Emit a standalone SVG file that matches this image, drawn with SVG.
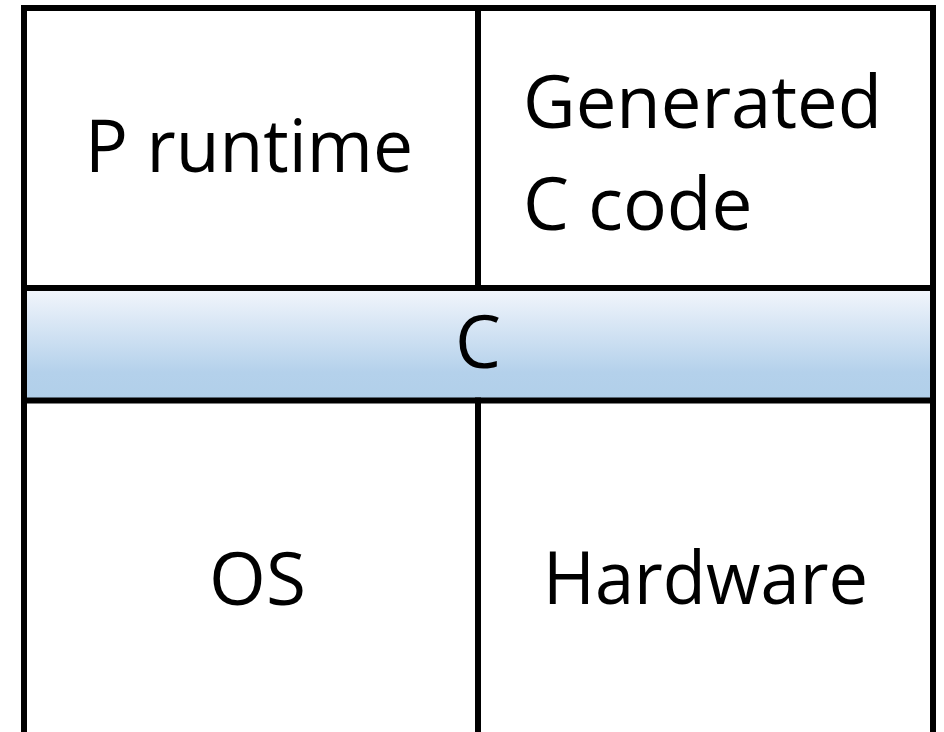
<svg xmlns="http://www.w3.org/2000/svg" width="944" height="732" viewBox="0 0 944 732">
  <style>
    .lbl { font-family: "Open Sans", "Noto Sans", "Liberation Sans", sans-serif; font-size: 73px; fill: #000; }
    .rule { stroke: #000; stroke-width: 6; fill: none; stroke-linecap: square; }
  </style>
  <defs>
    <linearGradient id="bandFill" x1="0" y1="0" x2="0" y2="1">
      <stop offset="0" stop-color="#f3f6fc"/>
      <stop offset="0.75" stop-color="#b4d1eb"/>
      <stop offset="1" stop-color="#b1cfe9"/>
    </linearGradient>
  </defs>
  <rect width="944" height="732" fill="#fff"/>

  <!-- C layer band -->
  <g id="c-layer">
    <rect x="24" y="288" width="909" height="112.5" fill="url(#bandFill)"/>
    <text class="lbl" x="478" y="368" text-anchor="middle">C</text>
  </g>

  <g id="p-runtime">
    <text class="lbl" x="249" y="172" text-anchor="middle" textLength="328" lengthAdjust="spacingAndGlyphs">P runtime</text>
  </g>

  <g id="generated-c">
    <text class="lbl" x="523" y="128" textLength="359" lengthAdjust="spacingAndGlyphs">Generated</text>
    <text class="lbl" x="523" y="230">C code</text>
  </g>

  <g id="os">
    <text class="lbl" x="257.5" y="605" text-anchor="middle">OS</text>
  </g>

  <g id="hardware">
    <text class="lbl" x="705.5" y="604" text-anchor="middle" textLength="325" lengthAdjust="spacingAndGlyphs">Hardware</text>
  </g>

  <!-- grid rules separating the layers -->
  <g id="grid">
    <path class="rule" d="M24 740 V8 H933 V740"/>
    <path class="rule" d="M24 288 H933 M24 400.5 H933"/>
    <path class="rule" d="M478 8 V288 M478 400.5 V740"/>
  </g>
</svg>
